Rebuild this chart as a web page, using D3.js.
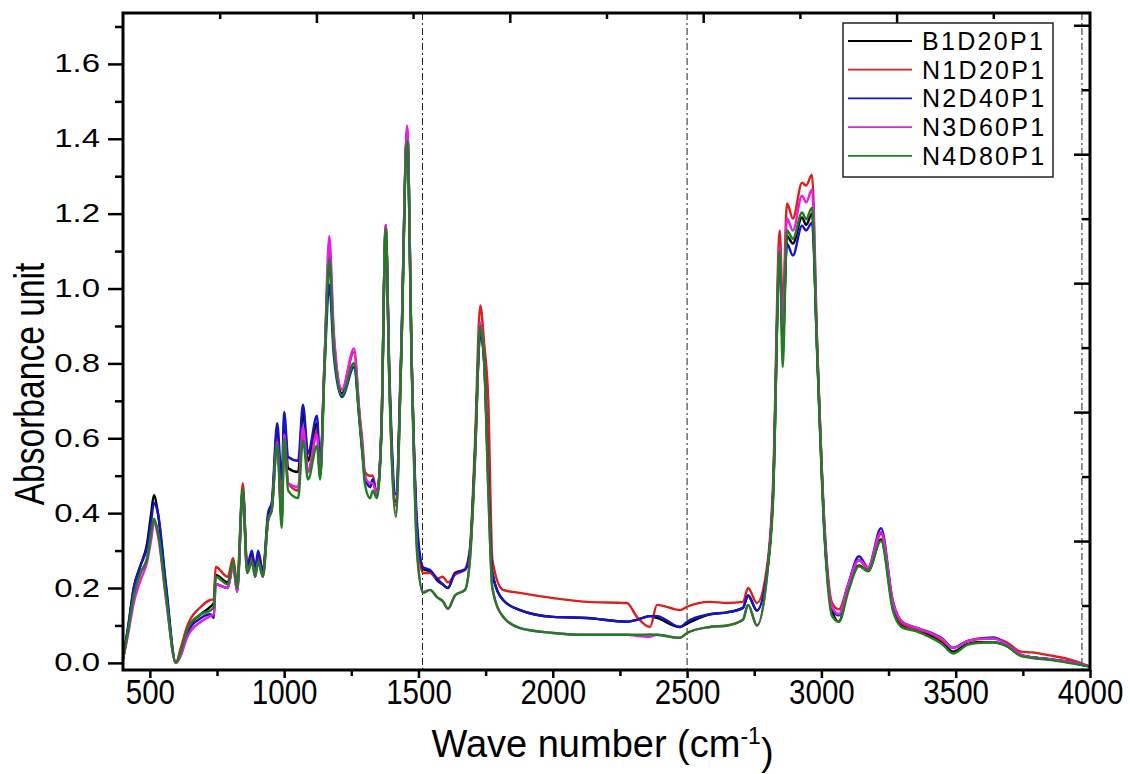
<!DOCTYPE html>
<html>
<head>
<meta charset="utf-8">
<script src="https://cdn.jsdelivr.net/npm/d3@7/dist/d3.min.js"></script>
<style>
  body { margin: 0; background: #fff; }
  svg { display: block; }
</style>
</head>
<body>
<div id="chart"></div>
<script>
/* FTIR absorbance spectra — D3.js v7 */
const waveNumbers = [400, 420, 440, 465, 490, 505, 515, 530, 560, 597, 615, 640, 690, 725, 738, 745, 790, 810, 825, 846,
  862, 880, 892, 903, 921, 940, 954, 974, 991, 1000, 1015, 1052, 1070, 1089, 1122, 1134, 1150, 1168, 1185, 1215,
  1260, 1280, 1293, 1300, 1320, 1330, 1345, 1362, 1378, 1392, 1416, 1435, 1458, 1475, 1495, 1517, 1543, 1570, 1590, 1610,
  1636, 1673, 1692, 1710, 1730, 1745, 1760, 1775, 1815, 1878, 2001, 2127, 2276, 2313, 2362, 2388, 2474, 2500, 2585, 2650,
  2708, 2727, 2760, 2800, 2820, 2845, 2856, 2872, 2894, 2928, 2943, 2965, 2984, 3013, 3040, 3065, 3100, 3140, 3174, 3222,
  3266, 3300, 3352, 3400, 3450, 3490, 3543, 3580, 3640, 3690, 3743, 3784, 3850, 3920, 4000];

const b1d20p1 = [0.01, 0.10, 0.20, 0.26, 0.32, 0.40, 0.448, 0.40, 0.20, 0.0, 0.03, 0.09, 0.13, 0.15, 0.16, 0.235, 0.215, 0.27, 0.20, 0.465,
  0.25, 0.29, 0.245, 0.29, 0.24, 0.39, 0.42, 0.62, 0.40, 0.65, 0.52, 0.51, 0.67, 0.54, 0.64, 0.50, 0.80, 1.07, 0.85, 0.72,
  0.80, 0.66, 0.55, 0.50, 0.47, 0.49, 0.45, 0.62, 1.16, 0.75, 0.43, 0.80, 1.42, 0.80, 0.35, 0.25, 0.245, 0.22, 0.21, 0.20,
  0.24, 0.25, 0.30, 0.55, 0.88, 0.80, 0.50, 0.24, 0.168, 0.141, 0.123, 0.12, 0.11, 0.115, 0.125, 0.12, 0.096, 0.105, 0.13, 0.135,
  0.147, 0.18, 0.14, 0.256, 0.45, 1.09, 0.85, 1.14, 1.12, 1.19, 1.17, 1.20, 0.835, 0.33, 0.14, 0.11, 0.20, 0.26, 0.245, 0.33,
  0.15, 0.10, 0.088, 0.075, 0.055, 0.03, 0.05, 0.055, 0.055, 0.045, 0.02, 0.015, 0.01, 0.003, -0.01];

const n1d20p1 = [0.01, 0.09, 0.18, 0.24, 0.28, 0.34, 0.38, 0.35, 0.18, 0.0, 0.04, 0.10, 0.15, 0.168, 0.17, 0.256, 0.23, 0.28, 0.21, 0.48,
  0.256, 0.28, 0.245, 0.28, 0.24, 0.38, 0.41, 0.60, 0.38, 0.61, 0.48, 0.46, 0.62, 0.51, 0.62, 0.50, 0.80, 1.10, 0.87, 0.73,
  0.83, 0.67, 0.576, 0.51, 0.50, 0.50, 0.45, 0.62, 1.17, 0.75, 0.42, 0.80, 1.42, 0.80, 0.34, 0.24, 0.24, 0.225, 0.23, 0.215,
  0.235, 0.25, 0.31, 0.58, 0.955, 0.85, 0.70, 0.275, 0.195, 0.187, 0.173, 0.163, 0.16, 0.123, 0.096, 0.155, 0.141, 0.15, 0.163, 0.16,
  0.163, 0.20, 0.16, 0.27, 0.48, 1.155, 0.95, 1.227, 1.187, 1.283, 1.275, 1.304, 0.86, 0.35, 0.16, 0.143, 0.21, 0.275, 0.25, 0.345,
  0.16, 0.105, 0.09, 0.08, 0.06, 0.04, 0.058, 0.064, 0.065, 0.055, 0.03, 0.028, 0.02, 0.01, -0.01];

const n2d40p1 = [0.01, 0.10, 0.20, 0.26, 0.31, 0.38, 0.427, 0.40, 0.21, 0.0, 0.02, 0.08, 0.12, 0.13, 0.12, 0.21, 0.20, 0.26, 0.19, 0.46,
  0.26, 0.30, 0.25, 0.30, 0.245, 0.40, 0.43, 0.64, 0.49, 0.67, 0.55, 0.54, 0.69, 0.56, 0.66, 0.53, 0.78, 1.01, 0.82, 0.71,
  0.79, 0.65, 0.55, 0.50, 0.47, 0.49, 0.45, 0.63, 1.16, 0.77, 0.45, 0.82, 1.42, 0.80, 0.37, 0.256, 0.248, 0.225, 0.21, 0.20,
  0.24, 0.248, 0.30, 0.55, 0.89, 0.80, 0.50, 0.24, 0.168, 0.141, 0.123, 0.12, 0.11, 0.115, 0.125, 0.125, 0.096, 0.11, 0.13, 0.135,
  0.147, 0.18, 0.14, 0.256, 0.45, 1.08, 0.88, 1.12, 1.088, 1.168, 1.155, 1.176, 0.84, 0.33, 0.145, 0.127, 0.21, 0.285, 0.255, 0.36,
  0.165, 0.11, 0.094, 0.083, 0.065, 0.04, 0.058, 0.064, 0.068, 0.05, 0.022, 0.015, 0.01, 0.003, -0.01];

const n3d60p1 = [0.01, 0.08, 0.16, 0.22, 0.27, 0.33, 0.375, 0.34, 0.17, 0.0, 0.02, 0.07, 0.11, 0.125, 0.13, 0.21, 0.20, 0.26, 0.19, 0.46,
  0.24, 0.27, 0.23, 0.27, 0.23, 0.38, 0.41, 0.59, 0.38, 0.61, 0.48, 0.47, 0.63, 0.51, 0.61, 0.50, 0.80, 1.14, 0.88, 0.73,
  0.84, 0.67, 0.56, 0.50, 0.48, 0.48, 0.45, 0.62, 1.17, 0.74, 0.40, 0.80, 1.435, 0.80, 0.30, 0.19, 0.195, 0.175, 0.165, 0.145,
  0.18, 0.195, 0.28, 0.53, 0.91, 0.80, 0.46, 0.20, 0.123, 0.093, 0.08, 0.075, 0.075, 0.072, 0.07, 0.075, 0.067, 0.08, 0.096, 0.10,
  0.115, 0.155, 0.10, 0.25, 0.45, 1.11, 0.90, 1.187, 1.155, 1.248, 1.23, 1.264, 0.85, 0.34, 0.15, 0.13, 0.21, 0.275, 0.255, 0.35,
  0.165, 0.11, 0.094, 0.082, 0.063, 0.04, 0.058, 0.064, 0.065, 0.05, 0.022, 0.015, 0.01, 0.003, -0.01];

const n4d80p1 = [0.01, 0.09, 0.18, 0.24, 0.28, 0.35, 0.385, 0.35, 0.18, 0.0, 0.03, 0.09, 0.13, 0.14, 0.15, 0.23, 0.21, 0.27, 0.20, 0.465,
  0.24, 0.27, 0.23, 0.27, 0.23, 0.38, 0.41, 0.585, 0.36, 0.60, 0.46, 0.44, 0.595, 0.49, 0.58, 0.49, 0.78, 1.08, 0.84, 0.715,
  0.80, 0.65, 0.54, 0.48, 0.44, 0.46, 0.44, 0.61, 1.16, 0.73, 0.39, 0.79, 1.395, 0.78, 0.29, 0.187, 0.195, 0.175, 0.165, 0.145,
  0.18, 0.195, 0.28, 0.54, 0.90, 0.80, 0.46, 0.20, 0.123, 0.093, 0.08, 0.075, 0.075, 0.075, 0.076, 0.075, 0.067, 0.08, 0.096, 0.10,
  0.115, 0.155, 0.10, 0.25, 0.43, 1.10, 0.79, 1.155, 1.133, 1.203, 1.185, 1.216, 0.83, 0.32, 0.125, 0.11, 0.19, 0.258, 0.245, 0.326,
  0.14, 0.095, 0.085, 0.07, 0.05, 0.025, 0.048, 0.053, 0.055, 0.045, 0.018, 0.013, 0.008, 0.0, -0.01];

const seriesNames = ['B1D20P1', 'N1D20P1', 'N2D40P1', 'N3D60P1', 'N4D80P1'];
const seriesValues = [b1d20p1, n1d20p1, n2d40p1, n3d60p1, n4d80p1];
const seriesColors = ['#000000', '#dc1f1f', '#1414c8', '#e61ee6', '#1f7f1f'];

const xTicks = [500, 1000, 1500, 2000, 2500, 3000, 3500, 4000];
const xMinorTicks = [750, 1250, 1750, 2250, 2750, 3250, 3750];
const yTicks = [0, 0.2, 0.4, 0.6, 0.8, 1.0, 1.2, 1.4, 1.6];
const yMinorTicks = [0.1, 0.3, 0.5, 0.7, 0.9, 1.1, 1.3, 1.5, 1.7];
const topTicks = [1, 2, 3, 4, 5, 6, 7, 8, 9];
const rightTicks = [1, 2, 3, 4, 5, 6, 7, 8, 9, 10];
const markerLines = [1515, 2500, 3970];

const W = 1130, H = 774;
const margin = { top: 13, right: 40, bottom: 104, left: 123 };
const width = W - margin.left - margin.right;
const height = H - margin.top - margin.bottom;

const svg = d3.select('#chart').append('svg').attr('width', W).attr('height', H)
  .append('g').attr('transform', `translate(${margin.left},${margin.top})`);

const x = d3.scaleLinear().domain([400, 4000]).range([0, width]);
const y = d3.scaleLinear().domain([-0.019, 1.736]).range([height, 0]);
const xTop = d3.scaleLinear().domain([0, 10]).range([0, width]);
const yRight = d3.scaleLinear().domain([0, 10.19]).range([height, 0]);

const sans = '"Liberation Sans", Arial, sans-serif';

// dash-dot marker lines
svg.selectAll('.marker').data(markerLines).enter().append('line')
  .attr('x1', d => x(d)).attr('x2', d => x(d)).attr('y1', 0).attr('y2', height)
  .attr('stroke', '#222').attr('stroke-width', 1).attr('stroke-dasharray', '7,3,2,3');

// spectra
const line = d3.line().x((d, i) => x(waveNumbers[i])).y(d => y(d)).curve(d3.curveMonotoneX);
svg.selectAll('.spec').data(seriesValues).enter().append('path')
  .attr('fill', 'none').attr('stroke', (d, i) => seriesColors[i]).attr('stroke-width', 2.4)
  .attr('stroke-linejoin', 'round').attr('d', line);

// axes
function styleAxis(g) {
  g.select('.domain').remove();
  g.selectAll('.tick line').attr('stroke', '#000').attr('stroke-width', 2.5);
}
svg.append('g').attr('transform', `translate(0,${height})`)
  .call(d3.axisBottom(x).tickValues(xMinorTicks).tickSize(6).tickFormat(''))
  .call(styleAxis);
svg.append('g').attr('transform', `translate(0,${height})`)
  .call(d3.axisBottom(x).tickValues(xTicks).tickSize(8).tickPadding(0).tickFormat(d3.format('d')))
  .call(styleAxis)
  .selectAll('text').attr('fill', '#000').attr('font-family', sans).attr('font-size', '36px')
  .attr('dy', '0.72em').attr('transform', 'scale(0.82,1)');

svg.append('g')
  .call(d3.axisLeft(y).tickValues(yMinorTicks).tickSize(8).tickFormat(''))
  .call(styleAxis);
const yAx = svg.append('g')
  .call(d3.axisLeft(y).tickValues(yTicks).tickSize(15).tickPadding(8).tickFormat(d3.format('.1f')))
  .call(styleAxis);
yAx.selectAll('text').attr('fill', '#000').attr('font-family', sans).attr('font-size', '25px')
  .attr('x', -23 / 1.32).attr('transform', 'scale(1.32,1)');

svg.append('g')
  .call(d3.axisBottom(xTop).tickValues(topTicks).tickSizeInner(0).tickSizeOuter(0).tickFormat(''))
  .call(g => g.select('.domain').remove())
  .selectAll('.tick line').attr('y2', d => d % 2 === 0 ? 10 : 6).attr('stroke', '#000').attr('stroke-width', 2.5);
svg.append('g').attr('transform', `translate(${width},0)`)
  .call(d3.axisLeft(yRight).tickValues(rightTicks).tickSizeInner(0).tickSizeOuter(0).tickFormat(''))
  .call(g => g.select('.domain').remove())
  .selectAll('.tick line').attr('x2', d => d % 2 === 0 ? -16 : -8).attr('stroke', '#000').attr('stroke-width', 2.5);

// frame
svg.append('rect').attr('width', width).attr('height', height)
  .attr('fill', 'none').attr('stroke', '#000').attr('stroke-width', 3);

// axis titles
const xTitle = svg.append('text').attr('x', width / 2 - 4).attr('y', height + 87)
  .attr('text-anchor', 'middle').attr('font-family', sans).attr('font-size', '38px').attr('fill', '#000');
xTitle.append('tspan').text('Wave number (cm');
xTitle.append('tspan').attr('dy', '-0.55em').attr('font-size', '23px').text('-1');
xTitle.append('tspan').attr('dy', '0.55em').text(')');

svg.append('text').attr('transform', `translate(${-79},${384 - margin.top}) rotate(-90) scale(0.8,1)`)
  .attr('text-anchor', 'middle').attr('font-family', sans).attr('font-size', '42px').attr('fill', '#000')
  .text('Absorbance unit');

// legend
const legend = svg.append('g').attr('transform', `translate(${843 - margin.left},${23 - margin.top})`);
legend.append('rect').attr('width', 210).attr('height', 154)
  .attr('fill', '#fff').attr('stroke', '#222').attr('stroke-width', 1.5);
const rows = legend.selectAll('.row').data(seriesNames).enter().append('g')
  .attr('transform', (d, i) => `translate(0,${18 + i * 28.7})`);
rows.append('line').attr('x1', 5).attr('x2', 69)
  .attr('stroke', (d, i) => seriesColors[i]).attr('stroke-width', 1.8);
rows.append('text').attr('x', 79).attr('y', 9)
  .attr('font-family', sans).attr('font-size', '25px').attr('letter-spacing', '2.3px').attr('fill', '#000')
  .text(d => d);
</script>
</body>
</html>
